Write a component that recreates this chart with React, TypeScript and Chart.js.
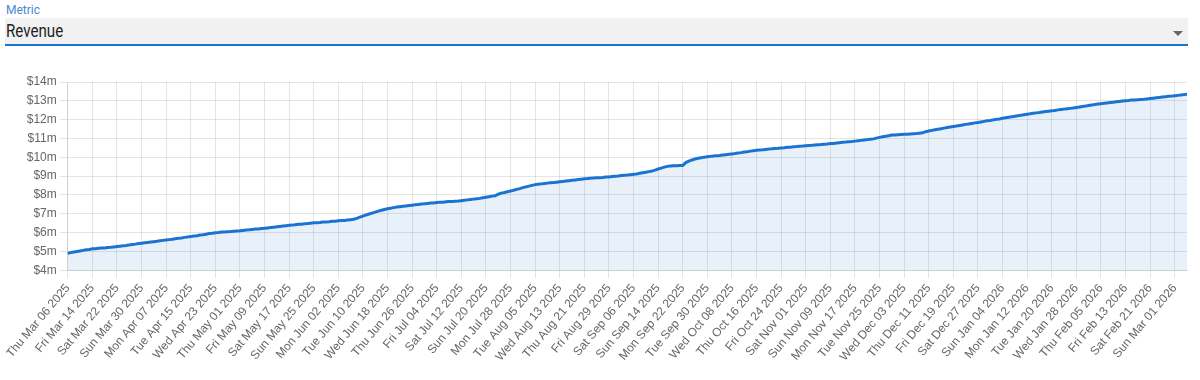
import React, { useEffect, useRef } from "react";
import Chart from "chart.js/auto";

// Revenue (cumulative), in $ millions, one value per day from Thu Mar 06 2025
const startDate = [2025, 2, 6];
const revenue: number[] = [
  4.91, 4.94, 4.97, 5.0, 5.03, 5.06, 5.09, 5.11, 5.14,
  5.15, 5.17, 5.18, 5.19, 5.21, 5.22, 5.24, 5.26,
  5.28, 5.3, 5.32, 5.35, 5.37, 5.39, 5.42, 5.44,
  5.46, 5.48, 5.5, 5.52, 5.54, 5.57, 5.59, 5.61,
  5.63, 5.65, 5.68, 5.7, 5.72, 5.75, 5.77, 5.79,
  5.82, 5.84, 5.87, 5.89, 5.92, 5.95, 5.97, 6.0,
  6.01, 6.03, 6.04, 6.05, 6.06, 6.08, 6.09, 6.1,
  6.12, 6.14, 6.15, 6.17, 6.19, 6.2, 6.22, 6.23,
  6.25, 6.27, 6.29, 6.31, 6.33, 6.35, 6.37, 6.39,
  6.4, 6.42, 6.44, 6.45, 6.47, 6.48, 6.5, 6.52,
  6.53, 6.54, 6.56, 6.57, 6.58, 6.6, 6.61, 6.63,
  6.64, 6.65, 6.67, 6.69, 6.71, 6.76, 6.82, 6.88,
  6.94, 6.99, 7.04, 7.09, 7.14, 7.19, 7.23, 7.27,
  7.3, 7.33, 7.36, 7.38, 7.4, 7.42, 7.44, 7.46,
  7.48, 7.5, 7.52, 7.53, 7.55, 7.57, 7.58, 7.6,
  7.61, 7.62, 7.64, 7.65, 7.66, 7.67, 7.68, 7.7,
  7.72, 7.74, 7.76, 7.78, 7.8, 7.82, 7.85, 7.88,
  7.91, 7.94, 7.96, 8.04, 8.1, 8.13, 8.17, 8.21,
  8.25, 8.3, 8.34, 8.39, 8.43, 8.47, 8.51, 8.55,
  8.57, 8.59, 8.61, 8.63, 8.65, 8.66, 8.68, 8.7,
  8.72, 8.74, 8.76, 8.78, 8.8, 8.82, 8.84, 8.86,
  8.87, 8.89, 8.9, 8.91, 8.92, 8.93, 8.95, 8.96,
  8.98, 9.0, 9.01, 9.03, 9.05, 9.06, 9.08, 9.1,
  9.12, 9.15, 9.18, 9.21, 9.24, 9.27, 9.32, 9.38,
  9.43, 9.48, 9.52, 9.54, 9.55, 9.55, 9.56, 9.57,
  9.72, 9.8, 9.86, 9.91, 9.95, 9.98, 10.01, 10.03,
  10.05, 10.07, 10.09, 10.1, 10.12, 10.14, 10.16, 10.18,
  10.2, 10.23, 10.25, 10.28, 10.3, 10.33, 10.35, 10.37,
  10.39, 10.4, 10.42, 10.44, 10.45, 10.47, 10.48, 10.5,
  10.51, 10.53, 10.54, 10.56, 10.57, 10.59, 10.6, 10.62,
  10.63, 10.64, 10.66, 10.67, 10.68, 10.7, 10.71, 10.73,
  10.74, 10.76, 10.78, 10.8, 10.81, 10.83, 10.84, 10.86,
  10.88, 10.9, 10.92, 10.94, 10.96, 10.98, 11.02, 11.06,
  11.09, 11.12, 11.15, 11.18, 11.19, 11.2, 11.21, 11.22,
  11.23, 11.24, 11.25, 11.26, 11.28, 11.3, 11.36, 11.4,
  11.43, 11.46, 11.49, 11.52, 11.55, 11.58, 11.61, 11.64,
  11.66, 11.69, 11.72, 11.75, 11.77, 11.8, 11.83, 11.85,
  11.88, 11.91, 11.94, 11.96, 11.99, 12.02, 12.04, 12.07,
  12.1, 12.13, 12.15, 12.18, 12.21, 12.23, 12.26, 12.29,
  12.31, 12.34, 12.36, 12.38, 12.41, 12.43, 12.45, 12.47,
  12.49, 12.52, 12.54, 12.56, 12.58, 12.6, 12.62, 12.65,
  12.67, 12.7, 12.72, 12.75, 12.78, 12.8, 12.83, 12.85,
  12.87, 12.89, 12.91, 12.93, 12.95, 12.97, 12.99, 13.01,
  13.02, 13.04, 13.05, 13.06, 13.07, 13.08, 13.1, 13.12,
  13.14, 13.16, 13.18, 13.2, 13.22, 13.24, 13.25, 13.27,
  13.29, 13.31, 13.33, 13.35,
];

const dayLabels: string[] = revenue.map((_, i) =>
  new Date(startDate[0], startDate[1], startDate[2] + i).toDateString()
);

const yMin = 4;
const yMax = 14;
const labelEvery = 8;
const tickFont = { family: "Arial, 'Liberation Sans', sans-serif", size: 12 };

export default function App() {
  const canvasRef = useRef<HTMLCanvasElement | null>(null);

  useEffect(() => {
    document.body.style.margin = "0";
    const ctx = canvasRef.current;
    if (!ctx) return;
    const chart = new Chart(ctx, {
      type: "line",
      data: {
        labels: dayLabels,
        datasets: [
          {
            label: "Revenue",
            data: revenue,
            borderColor: "#1a73d1",
            backgroundColor: "rgba(25,118,210,0.1)",
            borderWidth: 3,
            pointRadius: 0,
            fill: "start",
            tension: 0,
          },
        ],
      },
      options: {
        animation: false,
        responsive: true,
        maintainAspectRatio: false,
        layout: { padding: { left: 0, right: 6, top: 24, bottom: 0 } },
        plugins: { legend: { display: false }, tooltip: { enabled: false } },
        scales: {
          x: {
            ticks: {
              autoSkip: false,
              minRotation: 50,
              maxRotation: 50,
              color: "#666",
              font: tickFont,
              callback: function (value: any, index: number) {
                return index % labelEvery === 0 ? dayLabels[index] : null;
              },
            },
            grid: { color: "rgba(0,0,0,0.1)" },
          },
          y: {
            min: yMin,
            max: yMax,
            ticks: {
              stepSize: 1,
              color: "#666",
              font: tickFont,
              callback: (v: any) => `$${v}m`,
            },
            grid: { color: "rgba(0,0,0,0.1)" },
          },
        },
      },
    });
    return () => chart.destroy();
  }, []);

  return (
    <div style={{ position: "relative", width: 1200, height: 380, fontFamily: "Roboto, sans-serif" }}>
      <div style={{ position: "absolute", left: 6, top: 3, fontSize: 12, color: "#4a86d4" }}>Metric</div>
      <div
        style={{
          position: "absolute",
          left: 5,
          top: 18,
          width: 1183,
          height: 26,
          background: "#f1f1f1",
          borderBottom: "2px solid #1976d2",
        }}
      >
        <div
          style={{
            position: "absolute",
            left: 1,
            top: 2,
            fontSize: 18,
            lineHeight: "22px",
            color: "#222",
            transform: "scaleX(0.84)",
            transformOrigin: "left center",
            whiteSpace: "nowrap",
          }}
        >
          Revenue
        </div>
        <div
          style={{
            position: "absolute",
            left: 1168,
            top: 13,
            width: 0,
            height: 0,
            borderLeft: "5px solid transparent",
            borderRight: "5px solid transparent",
            borderTop: "5px solid #666",
          }}
        />
      </div>
      <div style={{ position: "absolute", left: 6, top: 58, width: 1187, height: 309 }}>
        <canvas ref={canvasRef} />
      </div>
    </div>
  );
}
